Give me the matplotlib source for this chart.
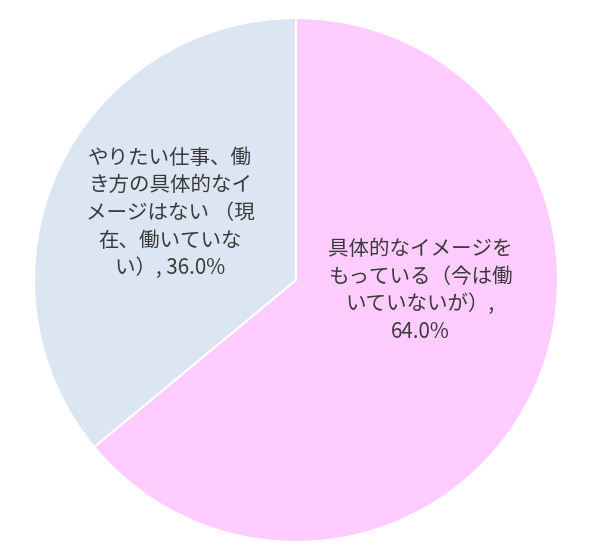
import matplotlib.pyplot as plt

plt.rcParams['font.family'] = ['Noto Sans CJK JP', 'DejaVu Sans']

labels = ['具体的なイメージを\nもっている（今は働\nいていないが）,\n64.0%',
          'やりたい仕事、働\nき方の具体的なイ\nメージはない （現\n在、働いていな\nい）, 36.0%']
values = [64.0, 36.0]
colors = ['#FFCCFF', '#DCE6F2']
label_pos = [(0.473, -0.04), (-0.48, 0.256)]

fig = plt.figure(figsize=(6, 5.57), dpi=100)
ax = fig.add_axes([34 / 600, 15 / 557, 524 / 600, 524 / 557])
ax.pie(values, colors=colors, startangle=90, counterclock=False,
       wedgeprops=dict(edgecolor='white', linewidth=1.5), radius=1)
for lab, (x, y) in zip(labels, label_pos):
    ax.text(x, y, lab, ha='center', va='center', fontsize=14.8,
            color='#3a3a3a', linespacing=1.33)
ax.set_xlim(-1, 1)
ax.set_ylim(-1, 1)
ax.set_aspect('equal')
ax.axis('off')
fig.savefig('out.png', dpi=100)
